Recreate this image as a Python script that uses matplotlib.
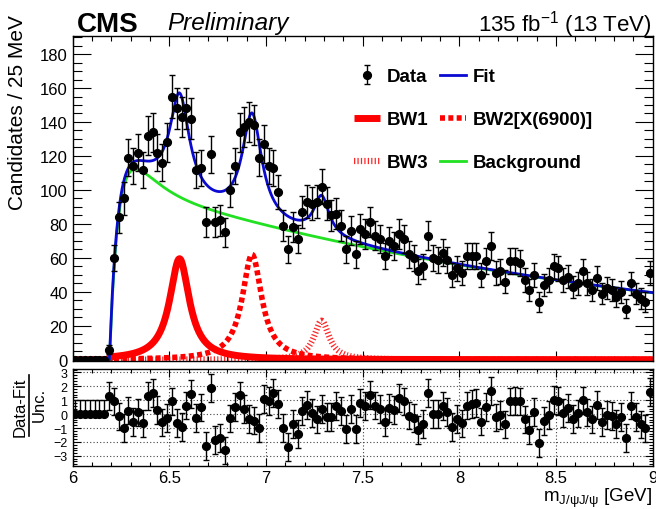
import numpy as np
import matplotlib
matplotlib.use('Agg')
import matplotlib.pyplot as plt
from matplotlib.ticker import MultipleLocator
from matplotlib.lines import Line2D

plt.rcParams['font.family'] = ['Liberation Sans', 'DejaVu Sans']
plt.rcParams['mathtext.fontset'] = 'custom'
plt.rcParams['mathtext.rm'] = 'Liberation Sans'
plt.rcParams['mathtext.it'] = 'Liberation Sans:italic'
plt.rcParams['mathtext.bf'] = 'Liberation Sans:bold'

# binning: 25 MeV bins from 6 to 9 GeV
M_LO = 6.0
M_HI = 9.0
BIN_W = 0.025

counts = [0, 0, 0, 0, 0, 0, 0, 6, 60, 84,
          95, 119, 114, 122, 112, 132, 134, 122, 116, 128,
          155, 148, 143, 148, 142, 112, 113, 81, 121, 81,
          82, 75, 100, 114, 134, 137, 140, 138, 119, 127,
          114, 113, 99, 79, 65, 78, 71, 87, 93, 92,
          93, 102, 92, 85, 86, 79, 65, 76, 62, 77,
          74, 81, 73, 71, 61, 70, 67, 74, 71, 62,
          60, 52, 55, 73, 60, 59, 63, 59, 50, 54,
          51, 61, 61, 61, 50, 58, 67, 51, 52, 46,
          58, 58, 57, 47, 41, 50, 34, 44, 47, 55,
          54, 47, 49, 43, 45, 52, 45, 41, 48, 39,
          42, 41, 37, 40, 30, 45, 39, 36, 34, 51]

pulls = [0, 0, 0, 0, 0, 0, 0, 1.32, 0.91, -0.17,
         -0.98, 0.26, -0.55, 0.12, -0.67, 1.29, 1.51, 0.31, -0.60, -0.26,
         0.91, -0.62, -0.91, 0.62, 1.44, -0.29, 0.48, -2.28, 1.87, -1.87,
         -1.70, -2.61, -0.31, 0.50, 1.34, 0.36, -0.36, -0.46, -1.00, 1.07,
         0.96, 1.49, 0.72, -0.98, -2.35, -0.72, -1.41, 0.24, 0.65, 0.07,
         -0.38, 0.34, -0.19, -0.22, 0.58, 0.22, -1.06, 0.34, -1.06, 0.77,
         0.58, 1.39, 0.62, 0.36, -0.55, 0.43, 0.29, 1.15, 0.91, -0.10,
         -0.26, -1.13, -0.70, 1.53, 0.02, -0.02, 0.58, 0.14, -0.91, -0.36,
         -0.67, 0.62, 0.70, 0.77, -0.53, 0.53, 1.65, -0.24, -0.05, -0.74,
         0.91, 0.94, 0.91, -0.38, -1.13, 0.17, -2.09, -0.50, -0.07, 1.01,
         0.96, 0.10, 0.43, -0.34, 0.05, 0.98, 0.12, -0.38, 0.65, -0.55,
         -0.07, -0.12, -0.70, -0.22, -1.70, 0.62, -0.22, -0.74, -1.03, 1.60]
pull_err_lo = [0] * 7 + [1] * 113
pull_err_hi = [1] * 120

# fit components
bw_mass = [6.552, 6.927, 7.287]
bw_width = [0.124, 0.122, 0.095]
bw_peak = [59.5, 62.0, 23.0]
bg_thr = 6.19
bg_tau = 0.08
bg_slow = [105.1, 0.349]
bg_fast = [135.0, 9.5]

RED = '#ff0000'
BLUE = '#0a0ad2'
GREEN = '#22e022'


def breit_wigner(m, m0, gam, h):
    return h * (gam / 2) ** 2 / ((m - m0) ** 2 + (gam / 2) ** 2) * (m > bg_thr)


def background(m):
    u = np.clip(m - bg_thr, 0, None)
    return (1 - np.exp(-u / bg_tau)) * (bg_slow[0] * np.exp(-bg_slow[1] * u) +
                                        bg_fast[0] * np.exp(-bg_fast[1] * u))


centers = M_LO + BIN_W * (np.arange(len(counts)) + 0.5)
counts = np.array(counts, dtype=float)
errs = np.sqrt(counts)

mm = np.linspace(M_LO, M_HI, 2000)
bw1 = breit_wigner(mm, bw_mass[0], bw_width[0], bw_peak[0])
bw2 = breit_wigner(mm, bw_mass[1], bw_width[1], bw_peak[1])
bw3 = breit_wigner(mm, bw_mass[2], bw_width[2], bw_peak[2])
bkg = background(mm)
fit = bkg + bw1 + bw2 + bw3

fig = plt.figure(figsize=(6.56, 5.10), dpi=100)
ax = fig.add_axes([0.111, 0.290, 0.884, 0.637])
ax2 = fig.add_axes([0.111, 0.0837, 0.884, 0.191])

l_bw1, = ax.plot(mm, bw1, color=RED, lw=5, solid_capstyle='butt')
l_bw2, = ax.plot(mm, bw2, color=RED, lw=4, dashes=(0.9, 0.6))
l_bw3, = ax.plot(mm, bw3, color=RED, lw=4.5, dashes=(0.2, 0.35), alpha=0.85)
l_bkg, = ax.plot(mm, bkg, color=GREEN, lw=2)
l_fit, = ax.plot(mm, fit, color=BLUE, lw=2)
h_data = ax.errorbar(centers, counts, yerr=errs, fmt='o', color='black', ms=5.6,
                     elinewidth=1, capsize=2, capthick=1, zorder=5)

ax.set_xlim(M_LO, M_HI)
ax.set_ylim(-0.8, 190.5)
ax.xaxis.set_major_locator(MultipleLocator(0.5))
ax.xaxis.set_minor_locator(MultipleLocator(0.1))
ax.yaxis.set_major_locator(MultipleLocator(20))
ax.yaxis.set_minor_locator(MultipleLocator(5))
ax.tick_params(which='both', direction='in', top=True, right=True, width=0.8)
ax.tick_params(axis='y', which='major', length=13, labelsize=12, pad=3.5)
ax.tick_params(axis='y', which='minor', length=6.5)
ax.tick_params(axis='x', which='major', length=7, labelbottom=False)
ax.tick_params(axis='x', which='minor', length=3.6)
for s in ax.spines.values():
    s.set_linewidth(1.0)

leg = ax.legend([h_data, l_bw1, l_bw3, l_fit, l_bw2, l_bkg],
                ['Data', 'BW1', 'BW3', 'Fit', 'BW2[X(6900)]', 'Background'],
                ncol=2, loc='upper left', bbox_to_anchor=(354 / 656, 1 - 69 / 510),
                bbox_transform=fig.transFigure, frameon=False, borderpad=0,
                prop={'weight': 'bold', 'size': 13.5}, handlelength=1.4,
                handletextpad=0.35, labelspacing=1.38, columnspacing=0.6,
                borderaxespad=0)

ax2.errorbar(centers, pulls, yerr=[pull_err_lo, pull_err_hi], fmt='o', color='black',
             ms=5.6, elinewidth=1, capsize=2, capthick=1, zorder=5)
ax2.set_xlim(M_LO, M_HI)
ax2.set_ylim(-3.75, 3.25)
ax2.xaxis.set_major_locator(MultipleLocator(0.5))
ax2.xaxis.set_minor_locator(MultipleLocator(0.1))
ax2.yaxis.set_major_locator(MultipleLocator(1))
ax2.yaxis.set_minor_locator(MultipleLocator(0.2))
ax2.xaxis.set_major_formatter(plt.FuncFormatter(lambda v, p: f'{v:g}'))
ax2.grid(True, which='major', color='#444444', linestyle=(0, (1, 2)), lw=0.8)
ax2.tick_params(which='both', direction='in', top=True, right=True, width=0.8)
ax2.tick_params(axis='y', which='major', length=6, labelsize=9, pad=4)
ax2.tick_params(axis='y', which='minor', length=3)
ax2.tick_params(axis='x', which='major', length=6, labelsize=12, pad=3)
ax2.tick_params(axis='x', which='minor', length=3)
for s in ax2.spines.values():
    s.set_linewidth(1.0)

fig.text(77 / 656, 1 - 31.7 / 510, 'CMS', weight='bold', size=20, va='baseline')
fig.text(167 / 656, 1 - 30 / 510, 'Preliminary', style='italic', size=17.5, va='baseline')
fig.text(652 / 656, 1 - 31.5 / 510, r'135 fb$^{\mathrm{-1}}$ (13 TeV)', ha='right',
         va='baseline', size=16)
fig.text(18 / 656, 1 - 113 / 510, 'Candidates / 25 MeV', rotation=90, size=15,
         ha='center', va='center')
fig.text(20 / 656, 1 - 407 / 510, 'Data-Fit', rotation=90, size=12, ha='center',
         va='center')
fig.text(39 / 656, 1 - 405 / 510, 'Unc.', rotation=90, size=12, ha='center', va='center')
fig.add_artist(Line2D([29 / 656, 29 / 656], [1 - 376 / 510, 1 - 437 / 510],
                      transform=fig.transFigure, color='black', lw=1.2))
fig.text(652 / 656, 1 - 502 / 510, r'm$_{\mathrm{J/ψJ/ψ}}$ [GeV]', ha='right',
         va='baseline', size=13.5)

fig.savefig('out.png', dpi=100)
